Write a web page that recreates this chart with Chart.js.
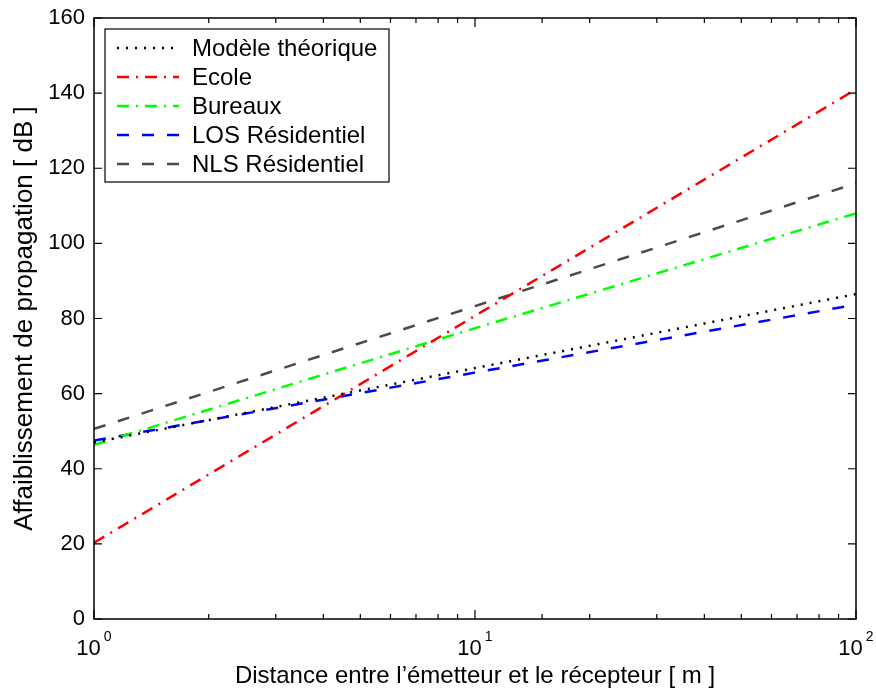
<!DOCTYPE html>
<html>
<head>
<meta charset="utf-8">
<script src="https://cdn.jsdelivr.net/npm/chart.js@4/dist/chart.umd.min.js"></script>
<style>
    body { margin: 0; background: #fff; }
    #wrap { width: 876px; height: 689px; }
</style>
</head>
<body>
<div id="wrap"><canvas id="affaiblissementChart"></canvas></div>
<script>
const distances = [1, 10, 100];
const modeleTheorique = [47.0, 66.8, 86.5];
const ecole = [20.3, 80.7, 141.0];
const bureaux = [46.4, 77.4, 108.0];
const losResidentiel = [47.5, 65.6, 83.7];
const nlsResidentiel = [50.6, 83.3, 116.0];
const yTicks = [0, 20, 40, 60, 80, 100, 120, 140, 160];
const xLabels = [1, 10, 100];
const xExposants = ['0', '1', '2'];

const police = 'Liberation Sans, Arial, Helvetica, sans-serif';

function serie(label, valeurs, couleur, tirets) {
    return {
        label: label,
        data: distances.map((d, i) => ({ x: d, y: valeurs[i] })),
        borderColor: couleur,
        borderWidth: 2.5,
        borderDash: tirets,
        pointRadius: 0,
        tension: 0,
        fill: false
    };
}

// cadre, graduations vers l'interieur, labels 10^n et legende dans la zone du graphe
const cadrePlugin = {
    id: 'cadre',
    afterDatasetsDraw(chart) {
        const ctx = chart.ctx;
        const a = chart.chartArea;
        const sx = chart.scales.x;
        const sy = chart.scales.y;

        ctx.save();
        ctx.strokeStyle = '#000';
        ctx.lineWidth = 1.5;
        ctx.setLineDash([]);
        ctx.strokeRect(a.left, a.top, a.right - a.left, a.bottom - a.top);

        ctx.lineWidth = 1.2;
        ctx.beginPath();
        sx.ticks.forEach(t => {
            const px = sx.getPixelForValue(t.value);
            const long = xLabels.includes(t.value) ? 9 : 5;
            ctx.moveTo(px, a.bottom); ctx.lineTo(px, a.bottom - long);
            ctx.moveTo(px, a.top); ctx.lineTo(px, a.top + long);
        });
        yTicks.forEach(v => {
            const py = sy.getPixelForValue(v);
            ctx.moveTo(a.left, py); ctx.lineTo(a.left + 8, py);
            ctx.moveTo(a.right, py); ctx.lineTo(a.right - 8, py);
        });
        ctx.stroke();

        // labels de l'axe x : 10 avec exposant
        ctx.fillStyle = '#000';
        ctx.textBaseline = 'alphabetic';
        ctx.textAlign = 'left';
        xLabels.forEach((v, i) => {
            const px = sx.getPixelForValue(v);
            ctx.font = '22px ' + police;
            const wBase = ctx.measureText('10').width;
            ctx.font = '14px ' + police;
            const wExp = ctx.measureText(xExposants[i]).width;
            const x0 = px - (wBase + 3 + wExp) / 2;
            ctx.font = '22px ' + police;
            ctx.fillText('10', x0, a.bottom + 36);
            ctx.font = '14px ' + police;
            ctx.fillText(xExposants[i], x0 + wBase + 3, a.bottom + 22);
        });

        // legende
        const lx = a.left + 11, ly = a.top + 11, lw = 284, lh = 153;
        ctx.fillStyle = '#fff';
        ctx.fillRect(lx, ly, lw, lh);
        ctx.lineWidth = 1.2;
        ctx.strokeStyle = '#000';
        ctx.strokeRect(lx, ly, lw, lh);
        ctx.font = '24px ' + police;
        ctx.textBaseline = 'middle';
        chart.data.datasets.forEach((ds, i) => {
            const cy = ly + 19 + i * 29;
            ctx.strokeStyle = ds.borderColor;
            ctx.lineWidth = ds.borderWidth;
            ctx.setLineDash(ds.borderDash);
            ctx.beginPath();
            ctx.moveTo(lx + 12, cy);
            ctx.lineTo(lx + 74, cy);
            ctx.stroke();
            ctx.fillStyle = '#000';
            ctx.fillText(ds.label, lx + 87, cy + 1);
        });
        ctx.restore();
    }
};

new Chart(document.getElementById('affaiblissementChart'), {
    type: 'line',
    data: {
        datasets: [
            serie('Modèle théorique', modeleTheorique, '#000000', [2, 7]),
            serie('Ecole', ecole, '#ff0000', [12, 7, 2, 7]),
            serie('Bureaux', bureaux, '#00ff00', [12, 7, 2, 7]),
            serie('LOS Résidentiel', losResidentiel, '#0000ff', [12, 13]),
            serie('NLS Résidentiel', nlsResidentiel, '#4a4a4a', [12, 13])
        ]
    },
    options: {
        responsive: true,
        maintainAspectRatio: false,
        animation: false,
        layout: { padding: { top: 18, right: 20, left: 0, bottom: 0 } },
        plugins: {
            legend: { display: false },
            tooltip: { enabled: false }
        },
        scales: {
            x: {
                type: 'logarithmic',
                min: 1,
                max: 100,
                grid: { display: false, drawTicks: false },
                border: { display: false },
                ticks: { display: false },
                title: {
                    display: true,
                    text: 'Distance entre l’émetteur et le récepteur [ m ]',
                    color: '#000',
                    font: { family: police, size: 24 },
                    padding: { top: 0, bottom: -2 }
                },
                afterFit: s => { s.height = 70; }
            },
            y: {
                min: 0,
                max: 160,
                grid: { display: false, drawTicks: false },
                border: { display: false },
                afterBuildTicks: s => { s.ticks = yTicks.map(v => ({ value: v })); },
                ticks: {
                    padding: 9,
                    color: '#000',
                    font: { family: police, size: 22 }
                },
                title: {
                    display: true,
                    text: 'Affaiblissement de propagation [ dB ]',
                    color: '#000',
                    font: { family: police, size: 26 },
                    padding: { top: 9, bottom: 0 }
                },
                afterFit: s => { s.width = 94; s.paddingTop = 0; s.paddingBottom = 0; }
            }
        }
    },
    plugins: [cadrePlugin]
});
</script>
</body>
</html>
